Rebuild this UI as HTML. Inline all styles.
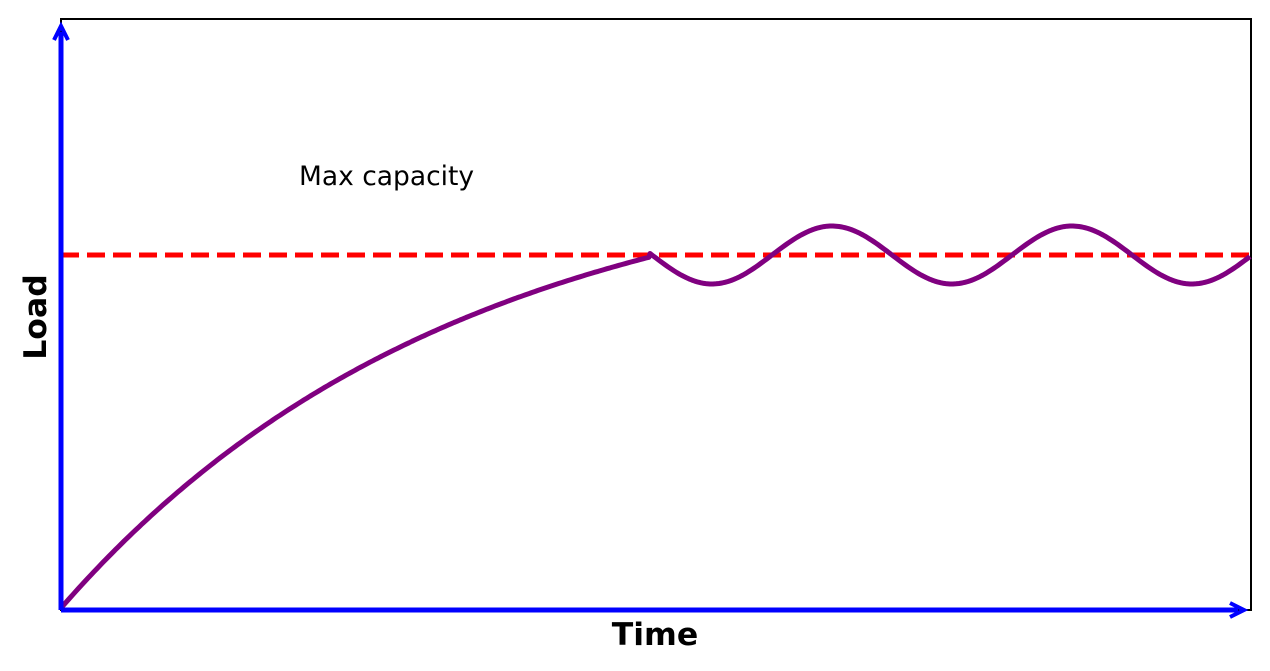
<!DOCTYPE html>
<html><head><meta charset="utf-8"><style>
html,body{margin:0;padding:0;background:#fff;}
svg{display:block;font-family:"DejaVu Sans","Liberation Sans",sans-serif;}
</style></head><body>
<svg id="s" width="1270" height="671" viewBox="0 0 1270 671" xmlns="http://www.w3.org/2000/svg">
<rect x="61" y="19" width="1190" height="591" fill="#fff" stroke="#000" stroke-width="2"/>
<line x1="61" y1="255" x2="1251" y2="255" stroke="#ff0000" stroke-width="5" stroke-dasharray="18,8"/>
<path id="curve" d="" fill="none" stroke="#800080" stroke-width="5" stroke-linejoin="round"/>
<line x1="61" y1="610" x2="61" y2="32" stroke="#0000ff" stroke-width="5"/>
<polyline points="54,40 61,26 68,40" fill="none" stroke="#0000ff" stroke-width="4"/>
<line x1="61" y1="610" x2="1238" y2="610" stroke="#0000ff" stroke-width="5"/>
<polyline points="1230,603 1244,610 1230,617" fill="none" stroke="#0000ff" stroke-width="4"/>
<text x="299" y="185" font-size="26.5" fill="#000">Max capacity</text>
<text x="655" y="645" font-size="31.5" font-weight="bold" text-anchor="middle" fill="#000">Time</text>
<text transform="translate(46,317) rotate(-90)" font-size="31.5" font-weight="bold" text-anchor="middle" fill="#000">Load</text>
</svg>
<script>
var d="",a=1.49,A=351/(1-Math.exp(-a));
for(var x=61;x<=650;x+=3){var t=(x-61)/(650-61);var y=608-A*(1-Math.exp(-a*t));d+=(d?"L":"M")+x+","+y.toFixed(1);}
for(var x=650;x<=1251;x+=3){var y=255+29*Math.sin(2*Math.PI*(x-652)/240);d+="L"+x+","+y.toFixed(1);}
document.getElementById("curve").setAttribute("d",d);
</script>
</body></html>
